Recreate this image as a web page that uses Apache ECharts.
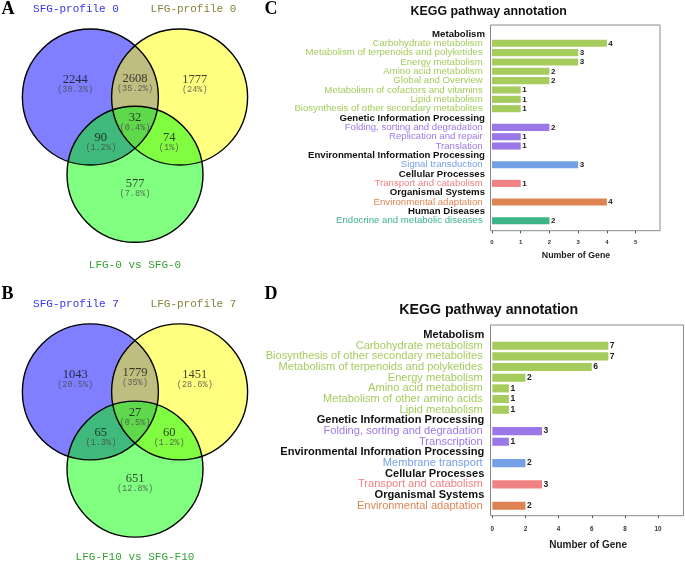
<!DOCTYPE html>
<html><head><meta charset="utf-8">
<script src="https://cdn.jsdelivr.net/npm/echarts@6/dist/echarts.min.js"></script>
<style>html,body{margin:0;padding:0;background:#fff}#c{width:685px;height:564px}</style>
</head><body><div id="c"></div>
<script>
// ---------- DATA ----------
const SETS_A = ['SFG-profile 0', 'LFG-profile 0'];
const CAPTION_A = 'LFG-0 vs SFG-0';
// regions: S only, L only, third only, S&L, S&third, L&third, all
const COUNTS_A = [2244, 1777, 577, 2608, 90, 74, 32];
const PCTS_A = ['30.3%', '24%', '7.8%', '35.2%', '1.2%', '1%', '0.4%'];

const SETS_B = ['SFG-profile 7', 'LFG-profile 7'];
const CAPTION_B = 'LFG-F10 vs SFG-F10';
const COUNTS_B = [1043, 1451, 651, 1779, 65, 60, 27];
const PCTS_B = ['20.5%', '28.6%', '12.8%', '35%', '1.3%', '1.2%', '0.5%'];

const REGIONS = [[0], [1], [2], [0, 1], [0, 2], [1, 2], [0, 1, 2]];

const TITLE_C = 'KEGG pathway annotation';
const C_CATEGORIES = ['Metabolism', 'Carbohydrate metabolism', 'Metabolism of terpenoids and polyketides',
  'Energy metabolism', 'Amino acid metabolism', 'Global and Overview', 'Metabolism of cofactors and vitamins',
  'Lipid metabolism', 'Biosynthesis of other secondary metabolites', 'Genetic Information Processing',
  'Folding, sorting and degradation', 'Replication and repair', 'Translation',
  'Environmental Information Processing', 'Signal transduction', 'Cellular Processes',
  'Transport and catabolism', 'Organismal Systems', 'Environmental adaptation', 'Human Diseases',
  'Endocrine and metabolic diseases'];
const C_VALUES = [null, 4, 3, 3, 2, 2, 1, 1, 1, null, 2, 1, 1, null, 3, null, 1, null, 4, null, 2];
const C_GROUPS = [-1, 0, 0, 0, 0, 0, 0, 0, 0, -1, 1, 1, 1, -1, 2, -1, 3, -1, 4, -1, 5];
const C_TICKS = [0, 1, 2, 3, 4, 5];

const TITLE_D = 'KEGG pathway annotation';
const D_CATEGORIES = ['Metabolism', 'Carbohydrate metabolism', 'Biosynthesis of other secondary metabolites',
  'Metabolism of terpenoids and polyketides', 'Energy metabolism', 'Amino acid metabolism',
  'Metabolism of other amino acids', 'Lipid metabolism', 'Genetic Information Processing',
  'Folding, sorting and degradation', 'Transcription', 'Environmental Information Processing',
  'Membrane transport', 'Cellular Processes', 'Transport and catabolism', 'Organismal Systems',
  'Environmental adaptation'];
const D_VALUES = [null, 7, 7, 6, 2, 1, 1, 1, null, 3, 1, null, 2, null, 3, null, 2];
const D_GROUPS = [-1, 0, 0, 0, 0, 0, 0, 0, -1, 1, 1, -1, 2, -1, 3, -1, 4];
const D_TICKS = [0, 2, 4, 6, 8, 10];
const AXIS_NAME = 'Number of Gene';

// ---------- STYLE ----------
const GROUP_COLORS = ['#a5cc5d', '#9b78e8', '#74a0e6', '#f08283', '#de8452', '#3cb586'];
const CIRCLE_COLORS = ['#7f7fff', '#ffff80', '#80ff80'];
const OVERLAP_COLORS = { '0,1': '#bfbd80', '0,2': '#3fb97c', '1,2': '#80fd40', '0,1,2': '#5fd84c' };
const MONO = '"Liberation Mono", monospace';
const SANS = '"Liberation Sans", Arial, sans-serif';
const SERIF = '"Liberation Serif", serif';

// Venn geometry (unit radius, equilateral layout)
const R = 1, DIST = 1.312;
const S3 = Math.sqrt(3);
const CENTERS = [[-DIST / 2, -DIST / (2 * S3)], [DIST / 2, -DIST / (2 * S3)], [0, DIST / S3]];
const F_SINGLE = 1.34, F_PAIR = 1.53, SINGLE_SHIFT = -0.05;

function insideAll(p, idx) {
  return idx.every(j => Math.hypot(p[0] - CENTERS[j][0], p[1] - CENTERS[j][1]) <= R + 1e-7);
}
function regionPolygon(idx) {
  const pts = [];
  idx.forEach(i => {
    const c = CENTERS[i];
    for (let k = 0; k < 720; k++) {
      const a = k / 720 * Math.PI * 2;
      const p = [c[0] + R * Math.cos(a), c[1] + R * Math.sin(a)];
      if (insideAll(p, idx)) pts.push(p);
    }
  });
  for (let a = 0; a < idx.length; a++) for (let b = a + 1; b < idx.length; b++) {
    const c1 = CENTERS[idx[a]], c2 = CENTERS[idx[b]];
    const dx = c2[0] - c1[0], dy = c2[1] - c1[1], D = Math.hypot(dx, dy);
    const h = Math.sqrt(R * R - D * D / 4);
    const mx = (c1[0] + c2[0]) / 2, my = (c1[1] + c2[1]) / 2;
    const ux = -dy / D, uy = dx / D;
    [[mx + ux * h, my + uy * h], [mx - ux * h, my - uy * h]].forEach(p => { if (insideAll(p, idx)) pts.push(p); });
  }
  const m = pts.reduce((s, p) => [s[0] + p[0] / pts.length, s[1] + p[1] / pts.length], [0, 0]);
  pts.sort((p, q) => Math.atan2(p[1] - m[1], p[0] - m[0]) - Math.atan2(q[1] - m[1], q[0] - m[0]));
  return pts;
}
function labelPos(idx) {
  const n = idx.length;
  const mean = idx.reduce((s, i) => [s[0] + CENTERS[i][0] / n, s[1] + CENTERS[i][1] / n], [0, 0]);
  if (n === 1) return [mean[0] * F_SINGLE, mean[1] * F_SINGLE + SINGLE_SHIFT];
  const f = n === 2 ? F_PAIR : 0;
  return [mean[0] * f, mean[1] * f];
}

function vennRender(params, api) {
  const children = [];
  const rPx = Math.abs(api.size([R, R])[0]);
  CENTERS.forEach((c, i) => {
    const p = api.coord(c);
    children.push({ type: 'circle', shape: { cx: p[0], cy: p[1], r: rPx }, style: { fill: CIRCLE_COLORS[i] } });
  });
  REGIONS.filter(r => r.length > 1).forEach(idx => {
    children.push({ type: 'polygon', shape: { points: regionPolygon(idx).map(p => api.coord(p)) },
      style: { fill: OVERLAP_COLORS[idx.join(',')] } });
  });
  CENTERS.forEach(c => {
    const p = api.coord(c);
    children.push({ type: 'circle', shape: { cx: p[0], cy: p[1], r: rPx }, style: { fill: 'none', stroke: '#000', lineWidth: 1.4 } });
  });
  return { type: 'group', children };
}

function vennLabels(counts, pcts, gi) {
  return {
    type: 'scatter', xAxisIndex: gi, yAxisIndex: gi, symbolSize: 1, silent: true, z: 5,
    itemStyle: { color: 'rgba(0,0,0,0)' },
    data: REGIONS.map((idx, k) => ({ value: labelPos(idx), count: counts[k], pct: pcts[k] })),
    label: {
      show: true, position: 'inside',
      formatter: p => '{n|' + p.data.count + '}\n{p|(' + p.data.pct + ')}',
      rich: {
        n: { fontFamily: SERIF, fontSize: 12.5, color: '#111', lineHeight: 10, align: 'center' },
        p: { fontFamily: MONO, fontSize: 8.6, color: '#4a4a4a', lineHeight: 10, align: 'center' }
      }
    }
  };
}

// scale: 68 px per unit
const U = 68;
function vennGrid(cx, cy) {
  return { left: cx - 1.9 * U, top: cy - 1.7 * U, width: 3.6 * U, height: 3.7 * U, show: false };
}
function vennX(gi) { return { gridIndex: gi, type: 'value', min: -1.9, max: 1.7, show: false }; }
function vennY(gi) { return { gridIndex: gi, type: 'value', min: -1.7, max: 2.0, inverse: true, show: false }; }

function richFor(fontSize, padRight) {
  const rich = { h: { fontFamily: SANS, fontSize: fontSize, fontWeight: 'bold', color: '#111' } };
  GROUP_COLORS.forEach((c, i) => {
    rich['g' + i] = { fontFamily: SANS, fontSize: fontSize, color: c, padding: [0, padRight, 0, 0] };
  });
  return rich;
}
function barY(gi, cats, groups, fontSize, margin, padRight) {
  return {
    gridIndex: gi, type: 'category', inverse: true, data: cats,
    axisLine: { show: false }, axisTick: { show: false },
    axisLabel: {
      interval: 0, margin: margin,
      formatter: (v, i) => groups[i] < 0 ? '{h|' + v + '}' : '{g' + groups[i] + '|' + v + '}',
      rich: richFor(fontSize, padRight)
    }
  };
}
function barX(gi, max, interval, ticks, offset, labelMargin, labelSize, nameGap, nameSize) {
  return {
    gridIndex: gi, type: 'value', min: 0, max: max, interval: interval, offset: offset,
    splitLine: { show: false }, axisLine: { show: false },
    axisTick: { show: true, length: 2.5, lineStyle: { color: '#555' }, customValues: ticks },
    axisLabel: { margin: labelMargin, fontSize: labelSize, fontWeight: 'bold', color: '#333', fontFamily: SANS,
      customValues: ticks },
    name: AXIS_NAME, nameLocation: 'middle', nameGap: nameGap,
    nameTextStyle: { fontFamily: SANS, fontSize: nameSize, fontWeight: 'bold', color: '#222', verticalAlign: 'middle' }
  };
}
function barSeries(gi, values, groups, labelSize) {
  return {
    type: 'bar', xAxisIndex: gi, yAxisIndex: gi, barWidth: '76%',
    data: values.map((v, i) => v == null ? '-' : { value: v, itemStyle: { color: GROUP_COLORS[groups[i]] } }),
    label: { show: true, position: 'right', distance: 1.5, fontFamily: SANS, fontSize: labelSize, fontWeight: 'bold', color: '#222' }
  };
}

function txt(x, y, text, font, fill, align) {
  return { type: 'text', x: x, y: y, silent: true, z: 10,
    style: { text: text, font: font, fill: fill, textAlign: align || 'center', align: align || 'center',
      textVerticalAlign: 'middle', verticalAlign: 'middle' } };
}

const option = {
  animation: false,
  backgroundColor: '#fff',
  grid: [
    vennGrid(135, 122.8),
    vennGrid(135, 417.6),
    { left: 492, top: 29.3, width: 168, height: 196.1, show: false },
    { left: 492.3, top: 329.7, width: 191.5, height: 181.4, show: false }
  ],
  xAxis: [vennX(0), vennX(1),
    barX(2, 5.85, 1, C_TICKS, 5.5, 8, 6, 24.8, 8.8),
    barX(3, 11.55, 2, D_TICKS, 4.6, 10.5, 6.3, 29.3, 10)],
  yAxis: [vennY(0), vennY(1),
    barY(2, C_CATEGORIES, C_GROUPS, 9.65, 7, 2.3),
    barY(3, D_CATEGORIES, D_GROUPS, 11.1, 8, 1.6)],
  series: [
    { type: 'custom', xAxisIndex: 0, yAxisIndex: 0, data: [[0, 0]], renderItem: vennRender, silent: true },
    { type: 'custom', xAxisIndex: 1, yAxisIndex: 1, data: [[0, 0]], renderItem: vennRender, silent: true },
    vennLabels(COUNTS_A, PCTS_A, 0),
    vennLabels(COUNTS_B, PCTS_B, 1),
    barSeries(2, C_VALUES, C_GROUPS, 8),
    barSeries(3, D_VALUES, D_GROUPS, 8.5)
  ],
  graphic: [
    { type: 'rect', shape: { x: 490.5, y: 25, width: 169.5, height: 205.7 }, style: { fill: 'none', stroke: '#8a8a8a', lineWidth: 1 }, silent: true },
    { type: 'rect', shape: { x: 490.5, y: 325, width: 193, height: 190.7 }, style: { fill: 'none', stroke: '#8a8a8a', lineWidth: 1 }, silent: true },
    txt(1.5, 9.5, 'A', 'bold 18px ' + SERIF, '#000', 'left'),
    txt(1.5, 294, 'B', 'bold 18px ' + SERIF, '#000', 'left'),
    txt(264.5, 9.5, 'C', 'bold 18px ' + SERIF, '#000', 'left'),
    txt(264.5, 294, 'D', 'bold 18px ' + SERIF, '#000', 'left'),
    txt(76, 9.3, SETS_A[0], '11px ' + MONO, '#3535f0'),
    txt(193.5, 9.3, SETS_A[1], '11px ' + MONO, '#85823a'),
    txt(135, 265, CAPTION_A, '11px ' + MONO, '#35a035'),
    txt(76, 304, SETS_B[0], '11px ' + MONO, '#3535f0'),
    txt(193.5, 304, SETS_B[1], '11px ' + MONO, '#85823a'),
    txt(135, 556.7, CAPTION_B, '11px ' + MONO, '#35a035'),
    txt(488.7, 11.7, TITLE_C, 'bold 12.4px ' + SANS, '#111'),
    txt(488.7, 310, TITLE_D, 'bold 14.2px ' + SANS, '#111')
  ]
};
const chart = echarts.init(document.getElementById('c'), null, { renderer: 'canvas' });
chart.setOption(option);
</script>
</body></html>
